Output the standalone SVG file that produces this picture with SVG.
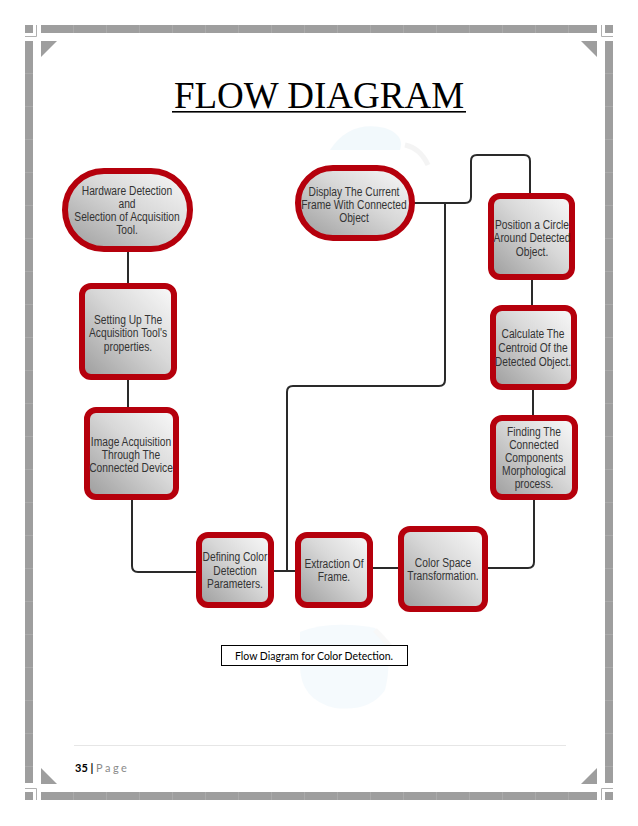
<svg xmlns="http://www.w3.org/2000/svg" width="638" height="826" viewBox="0 0 638 826">
<defs>
<linearGradient id="gfill" x1="0" y1="1" x2="1" y2="0">
<stop offset="0" stop-color="#9c9c9c"/>
<stop offset="0.55" stop-color="#d8d8d8"/>
<stop offset="1" stop-color="#fafafa"/>
</linearGradient>
<pattern id="segH" width="33" height="8" patternUnits="userSpaceOnUse" x="41" y="25">
<rect width="33" height="8" fill="#9e9e9e"/>
<rect x="32" width="1" height="8" fill="#aaaaaa"/>
</pattern>
<pattern id="segV" width="8" height="33" patternUnits="userSpaceOnUse" x="25" y="41">
<rect width="8" height="33" fill="#9e9e9e"/>
<rect y="32" width="8" height="1" fill="#aaaaaa"/>
</pattern>
</defs>
<style>
.node{fill:url(#gfill);stroke:#b5000c;stroke-width:6}
.lbl{font-family:"Liberation Sans",Arial,sans-serif;font-size:12.5px;fill:#333333;text-anchor:middle}
.conn{fill:none;stroke:#2a2a2a;stroke-width:2}
.bar{fill:#9e9e9e}
.thin{fill:none;stroke:#b0b0b0;stroke-width:1}
</style>
<rect width="638" height="826" fill="#ffffff"/>
<!-- faint watermark -->
<g id="watermark" opacity="0.35">
<path d="M330,150 Q350,120 385,128 Q405,135 400,150 Z" fill="#dceef8"/>
<path d="M405,145 Q420,148 428,165" fill="none" stroke="#e2e2e2" stroke-width="5"/>
<path d="M300,632 Q330,620 375,628 Q395,650 385,690 Q370,712 335,708 Q300,700 300,665 Z" fill="#e3f1fa"/>
<path d="M375,630 Q390,645 400,660" fill="none" stroke="#ececec" stroke-width="5"/>
</g>
<!-- page border -->
<g id="border">
<rect x="41" y="25" width="556" height="8" fill="url(#segH)"/>
<rect x="41" y="792" width="556" height="8" fill="url(#segH)"/>
<rect x="25" y="41" width="8" height="742" fill="url(#segV)"/>
<rect x="605" y="41" width="8" height="742" fill="url(#segV)"/>
<rect class="bar" x="25" y="25" width="8" height="8"/>
<rect class="bar" x="605" y="25" width="8" height="8"/>
<rect class="bar" x="25" y="792" width="8" height="8"/>
<rect class="bar" x="605" y="792" width="8" height="8"/>
<path class="thin" d="M36.5,25 V36.5 H25"/>
<path class="thin" d="M601.5,25 V36.5 H613"/>
<path class="thin" d="M25,788.5 H36.5 V800"/>
<path class="thin" d="M613,788.5 H601.5 V800"/>
<polygon class="bar" points="41,41 57,41 41,57"/>
<polygon class="bar" points="581,41 597,41 597,57"/>
<polygon class="bar" points="41,768 41,784 57,784"/>
<polygon class="bar" points="597,768 597,784 581,784"/>
</g>
<!-- title -->
<g id="title">
<text x="319" y="108" font-family="'Liberation Serif','Times New Roman',serif" font-size="37" text-anchor="middle" fill="#000">FLOW DIAGRAM</text>
<rect x="172" y="111" width="294" height="1.6" fill="#000"/>
</g>
<!-- connectors -->
<g id="connectors">
<path class="conn" d="M128,252 V283"/>
<path class="conn" d="M128,380 V407"/>
<path class="conn" d="M132,500 V566 Q132,572 138,572 H196"/>
<path class="conn" d="M274,571 H295"/>
<path class="conn" d="M373,568 H398"/>
<path class="conn" d="M488,568 H528 Q534,568 534,562 V500"/>
<path class="conn" d="M533,390 V415"/>
<path class="conn" d="M532,280 V305"/>
<path class="conn" d="M414,203 H465 Q471,203 471,197 V161 Q471,155 477,155 H524 Q530,155 530,161 V193"/>
<path class="conn" d="M445,203 V380 Q445,386 439,386 H293 Q287,386 287,392 V571"/>
</g>
<!-- nodes -->
<g id="n1">
<rect class="node" x="65" y="171" width="125" height="78" rx="39"/>
<text class="lbl" transform="translate(127,0) scale(0.82,1)"><tspan x="0" y="195">Hardware Detection</tspan><tspan x="0" y="208">and</tspan><tspan x="0" y="221">Selection of Acquisition</tspan><tspan x="0" y="234">Tool.</tspan></text>
</g>
<g id="n2">
<rect class="node" x="82" y="286" width="92" height="91" rx="9"/>
<text class="lbl" transform="translate(128,0) scale(0.82,1)"><tspan x="0" y="324">Setting Up The</tspan><tspan x="0" y="337.5">Acquisition Tool's</tspan><tspan x="0" y="351">properties.</tspan></text>
</g>
<g id="n3">
<rect class="node" x="87" y="410" width="89" height="87" rx="9"/>
<text class="lbl" transform="translate(131,0) scale(0.82,1)"><tspan x="0" y="446">Image Acquisition</tspan><tspan x="0" y="459">Through The</tspan><tspan x="0" y="472">Connected Device</tspan></text>
</g>
<g id="n4">
<rect class="node" x="199" y="535" width="72" height="70" rx="9"/>
<text class="lbl" transform="translate(235,0) scale(0.82,1)"><tspan x="0" y="561">Defining Color</tspan><tspan x="0" y="575">Detection</tspan><tspan x="0" y="588">Parameters.</tspan></text>
</g>
<g id="n5">
<rect class="node" x="298" y="535" width="72" height="70" rx="9"/>
<text class="lbl" transform="translate(334,0) scale(0.82,1)"><tspan x="0" y="568">Extraction Of</tspan><tspan x="0" y="581">Frame.</tspan></text>
</g>
<g id="n6">
<rect class="node" x="401" y="529" width="84" height="80" rx="9"/>
<text class="lbl" transform="translate(443,0) scale(0.82,1)"><tspan x="0" y="567">Color Space</tspan><tspan x="0" y="580">Transformation.</tspan></text>
</g>
<g id="n7">
<rect class="node" x="493" y="418" width="82" height="79" rx="9"/>
<text class="lbl" transform="translate(534,0) scale(0.82,1)"><tspan x="0" y="436">Finding The</tspan><tspan x="0" y="449">Connected</tspan><tspan x="0" y="462">Components</tspan><tspan x="0" y="475">Morphological</tspan><tspan x="0" y="488">process.</tspan></text>
</g>
<g id="n8">
<rect class="node" x="493" y="308" width="81" height="79" rx="9"/>
<text class="lbl" transform="translate(533,0) scale(0.82,1)"><tspan x="0" y="338">Calculate The</tspan><tspan x="0" y="352">Centroid Of the</tspan><tspan x="0" y="366">Detected Object.</tspan></text>
</g>
<g id="n9">
<rect class="node" x="491" y="196" width="81" height="81" rx="9"/>
<text class="lbl" transform="translate(532,0) scale(0.82,1)"><tspan x="0" y="229">Position a Circle</tspan><tspan x="0" y="242">Around Detected</tspan><tspan x="0" y="256">Object.</tspan></text>
</g>
<g id="n10">
<rect class="node" x="298" y="168" width="114" height="70" rx="35"/>
<text class="lbl" transform="translate(354,0) scale(0.82,1)"><tspan x="0" y="196">Display The Current</tspan><tspan x="0" y="209">Frame With Connected</tspan><tspan x="0" y="222">Object</tspan></text>
</g>
<!-- caption -->
<g id="caption">
<rect x="221.5" y="645.5" width="186" height="20" fill="#fff" stroke="#000" stroke-width="1"/>
<text x="314" y="660" font-family="Lato,'Open Sans',sans-serif" font-size="10.5" text-anchor="middle" fill="#000">Flow Diagram for Color Detection.</text>
</g>
<!-- footer -->
<g id="footer">
<line x1="74" y1="745.5" x2="566" y2="745.5" stroke="#e6e6e6" stroke-width="1"/>
<text x="75" y="772" font-family="Lato,'Open Sans',sans-serif" font-size="11"><tspan font-weight="bold" fill="#000">35 | </tspan><tspan fill="#8a8a8a" letter-spacing="2.5">Page</tspan></text>
</g>
</svg>
